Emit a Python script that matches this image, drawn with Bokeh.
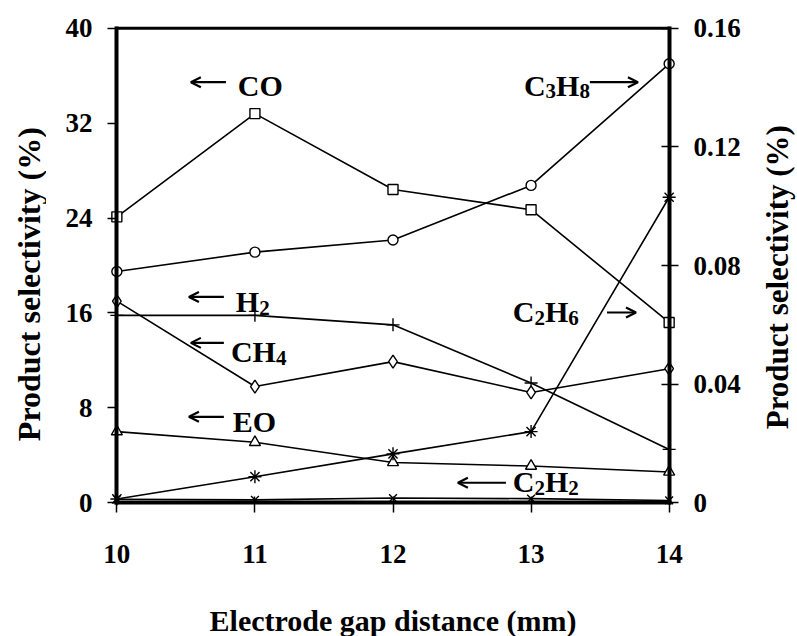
import math
from bokeh.plotting import figure
from bokeh.layouts import row
from bokeh.models import Range1d, LinearAxis, FixedTicker, Label, Arrow, OpenHead, Grid
from bokeh.embed import file_html
from bokeh.resources import INLINE

# ---- data ----
gap = [10, 11, 12, 13, 14]                     # electrode gap distance (mm)
co = [24.1, 32.8, 26.4, 24.7, 15.2]            # left axis (%)
h2 = [15.8, 15.8, 15.0, 10.1, 4.5]             # left axis (%)
ch4 = [17.0, 9.8, 11.9, 9.3, 11.3]             # left axis (%)
eo = [6.0, 5.1, 3.4, 3.1, 2.6]                 # left axis (%)
c2h2 = [0.3, 0.25, 0.4, 0.35, 0.2]             # left axis (%)
c3h8 = [0.078, 0.0845, 0.0886, 0.107, 0.148]   # right axis (%)
c2h6 = [0.0013, 0.0088, 0.0165, 0.024, 0.103]  # right axis (%)

x_ticks = [10, 11, 12, 13, 14]
left_ticks = [0, 8, 16, 24, 32, 40]
right_ticks = [0, 0.04, 0.08, 0.12, 0.16]
right_tick_labels = ["0", "0.04", "0.08", "0.12", "0.16"]
y_title = "Product selectivity (%)"
x_title = "Electrode gap distance (mm)"

FONT = "Liberation Serif"
XPAD, YPAD = 0.075, 0.9
FW, FH = 573, 496
H = 636
LEFT_W, RIGHT_W = 46, 36
ratio = right_ticks[-1] / left_ticks[-1]
PX_Y = FH / (left_ticks[-1] - left_ticks[0] + 2 * YPAD)


def hide_grids(fig):
    for r in fig.center:
        if isinstance(r, Grid):
            r.visible = False


p = figure(frame_width=FW, frame_height=FH,
           min_border_left=60, min_border_right=82,
           min_border_top=17, min_border_bottom=123,
           x_range=Range1d(gap[0] - XPAD, gap[-1] + XPAD),
           y_range=Range1d(left_ticks[0] - YPAD, left_ticks[-1] + YPAD),
           x_axis_location=None, y_axis_location=None,
           output_backend="svg", toolbar_location=None)
p.extra_y_ranges = {"right": Range1d((left_ticks[0] - YPAD) * ratio,
                                     (left_ticks[-1] + YPAD) * ratio)}
p.outline_line_color = None
p.background_fill_color = "white"
p.border_fill_color = "white"
hide_grids(p)

TICK_FS = "27px"


def label_axis(ax, standoff):
    """axis used only for tick labels, drawn at the frame edge"""
    ax.axis_line_color = None
    ax.major_tick_line_color = None
    ax.minor_tick_line_color = None
    ax.major_tick_in = 0
    ax.major_tick_out = 0
    ax.minor_tick_in = 0
    ax.minor_tick_out = 0
    ax.major_label_standoff = standoff
    ax.major_label_text_font = FONT
    ax.major_label_text_font_style = "bold"
    ax.major_label_text_font_size = TICK_FS
    ax.major_label_text_color = "black"


def line_axis(ax, t_in, t_out):
    """axis drawn at the data edge: line and ticks only"""
    ax.axis_line_width = 4
    ax.axis_line_color = "black"
    ax.axis_line_cap = "square"
    ax.major_tick_line_width = 1.5
    ax.major_tick_line_color = "black"
    ax.minor_tick_line_color = None
    ax.major_tick_in = t_in
    ax.major_tick_out = t_out
    ax.major_label_text_alpha = 0
    ax.major_label_text_font_size = "1px"
    ax.major_label_standoff = 0


# labels-only axes (at frame edges)
yl_lab = LinearAxis(ticker=FixedTicker(ticks=left_ticks))
label_axis(yl_lab, 14)
p.add_layout(yl_lab, "left")

yr_lab = LinearAxis(y_range_name="right", ticker=FixedTicker(ticks=right_ticks))
yr_lab.major_label_overrides = {t: s for t, s in zip(right_ticks, right_tick_labels)}
label_axis(yr_lab, 14)
p.add_layout(yr_lab, "right")

x_lab = LinearAxis(ticker=FixedTicker(ticks=x_ticks))
label_axis(x_lab, 31)
x_lab.axis_label = x_title
x_lab.axis_label_standoff = 38
x_lab.axis_label_text_font = FONT
x_lab.axis_label_text_font_style = "bold"
x_lab.axis_label_text_font_size = "30px"
x_lab.axis_label_text_color = "black"
p.add_layout(x_lab, "below")

# line/tick axes at the data limits
yl = LinearAxis(ticker=FixedTicker(ticks=left_ticks), fixed_location=gap[0],
                bounds=(left_ticks[0], left_ticks[-1]))
line_axis(yl, 0, 9)
p.add_layout(yl, "left")

yr = LinearAxis(y_range_name="right", ticker=FixedTicker(ticks=right_ticks),
                fixed_location=gap[-1], bounds=(right_ticks[0], right_ticks[-1]))
line_axis(yr, 8, 9)
p.add_layout(yr, "right")

xb = LinearAxis(ticker=FixedTicker(ticks=x_ticks), fixed_location=left_ticks[0],
                bounds=(gap[0], gap[-1]))
line_axis(xb, 6, 10)
p.add_layout(xb, "below")

# top border line
p.segment(x0=[gap[0]], y0=[left_ticks[-1]], x1=[gap[-1]], y1=[left_ticks[-1]],
          line_color="black", line_width=3, line_cap="square")

LW = 1.6
series = [
    (co, "square", None, 10),
    (h2, "cross", None, 13),
    (ch4, "diamond", None, 13),
    (eo, "triangle", None, 11),
    (c2h2, "x", None, 11),
    (c3h8, "circle", "right", 10),
    (c2h6, "asterisk", "right", 13),
]
for vals, marker, rng, size in series:
    kw = {"y_range_name": rng} if rng else {}
    p.line(gap, vals, line_color="black", line_width=LW, **kw)
for vals, marker, rng, size in series:
    kw = {"y_range_name": rng} if rng else {}
    p.scatter(gap, vals, marker=marker, size=size, fill_color="white",
              line_color="black", line_width=1.4, **kw)

# ---- series labels (text + subscripts) ----
MAIN, SUB = 30, 21
W = {"C": 0.722, "H": 0.778, "O": 0.778, "E": 0.667}
LIFT = 10 / PX_Y


def chem_label(x, y, pieces):
    off = 0.0
    for txt, sub in pieces:
        size = SUB if sub else MAIN
        yy = y + LIFT - (6 / PX_Y if sub else 0)
        p.add_layout(Label(x=x, y=yy, x_offset=off, text=txt,
                           text_font=FONT, text_font_style="bold",
                           text_font_size=f"{size}px", text_color="black",
                           text_baseline="alphabetic", text_align="left"))
        off += sum((0.5 if ch.isdigit() else W.get(ch, 0.6)) * size for ch in txt)


def arrow(x_from, x_to, y):
    p.add_layout(Arrow(end=OpenHead(size=10, line_width=2.2, line_color="black"),
                       x_start=x_from, y_start=y, x_end=x_to, y_end=y,
                       line_width=2.2, line_color="black"))


chem_label(10.876, 34.36, [("CO", False)])
arrow(10.79, 10.536, 35.45)
chem_label(10.862, 16.09, [("H", False), ("2", True)])
arrow(10.775, 10.522, 17.35)
chem_label(10.826, 11.88, [("CH", False), ("4", True)])
arrow(10.775, 10.536, 13.48)
chem_label(10.840, 5.99, [("EO", False)])
arrow(10.775, 10.522, 7.25)
chem_label(12.948, 34.36, [("C", False), ("3", True), ("H", False), ("8", True)])
arrow(13.426, 13.774, 35.45)
chem_label(12.868, 15.25, [("C", False), ("2", True), ("H", False), ("6", True)])
arrow(13.55, 13.76, 16.04)
chem_label(12.868, 0.93, [("C", False), ("2", True), ("H", False), ("2", True)])
arrow(12.818, 12.47, 1.69)


# ---- vertical axis titles in narrow side panels ----
def title_panel(width, cx, cy, size):
    f = figure(width=width, height=H, x_range=Range1d(0, width), y_range=Range1d(0, H),
               min_border=0, x_axis_location=None, y_axis_location=None,
               output_backend="svg", toolbar_location=None)
    f.outline_line_color = None
    f.background_fill_color = "white"
    f.border_fill_color = "white"
    hide_grids(f)
    f.add_layout(Label(x=cx, y=H - cy, text=y_title, angle=math.pi / 2,
                       text_font=FONT, text_font_style="bold", text_font_size=size,
                       text_align="center", text_baseline="middle", text_color="black"))
    return f


left_panel = title_panel(LEFT_W, 28, 344, "32px")
right_panel = title_panel(RIGHT_W, 16, 335, "31px")

layout = row(left_panel, p, right_panel, spacing=0)
open("out.html", "w").write(file_html(layout, INLINE))
